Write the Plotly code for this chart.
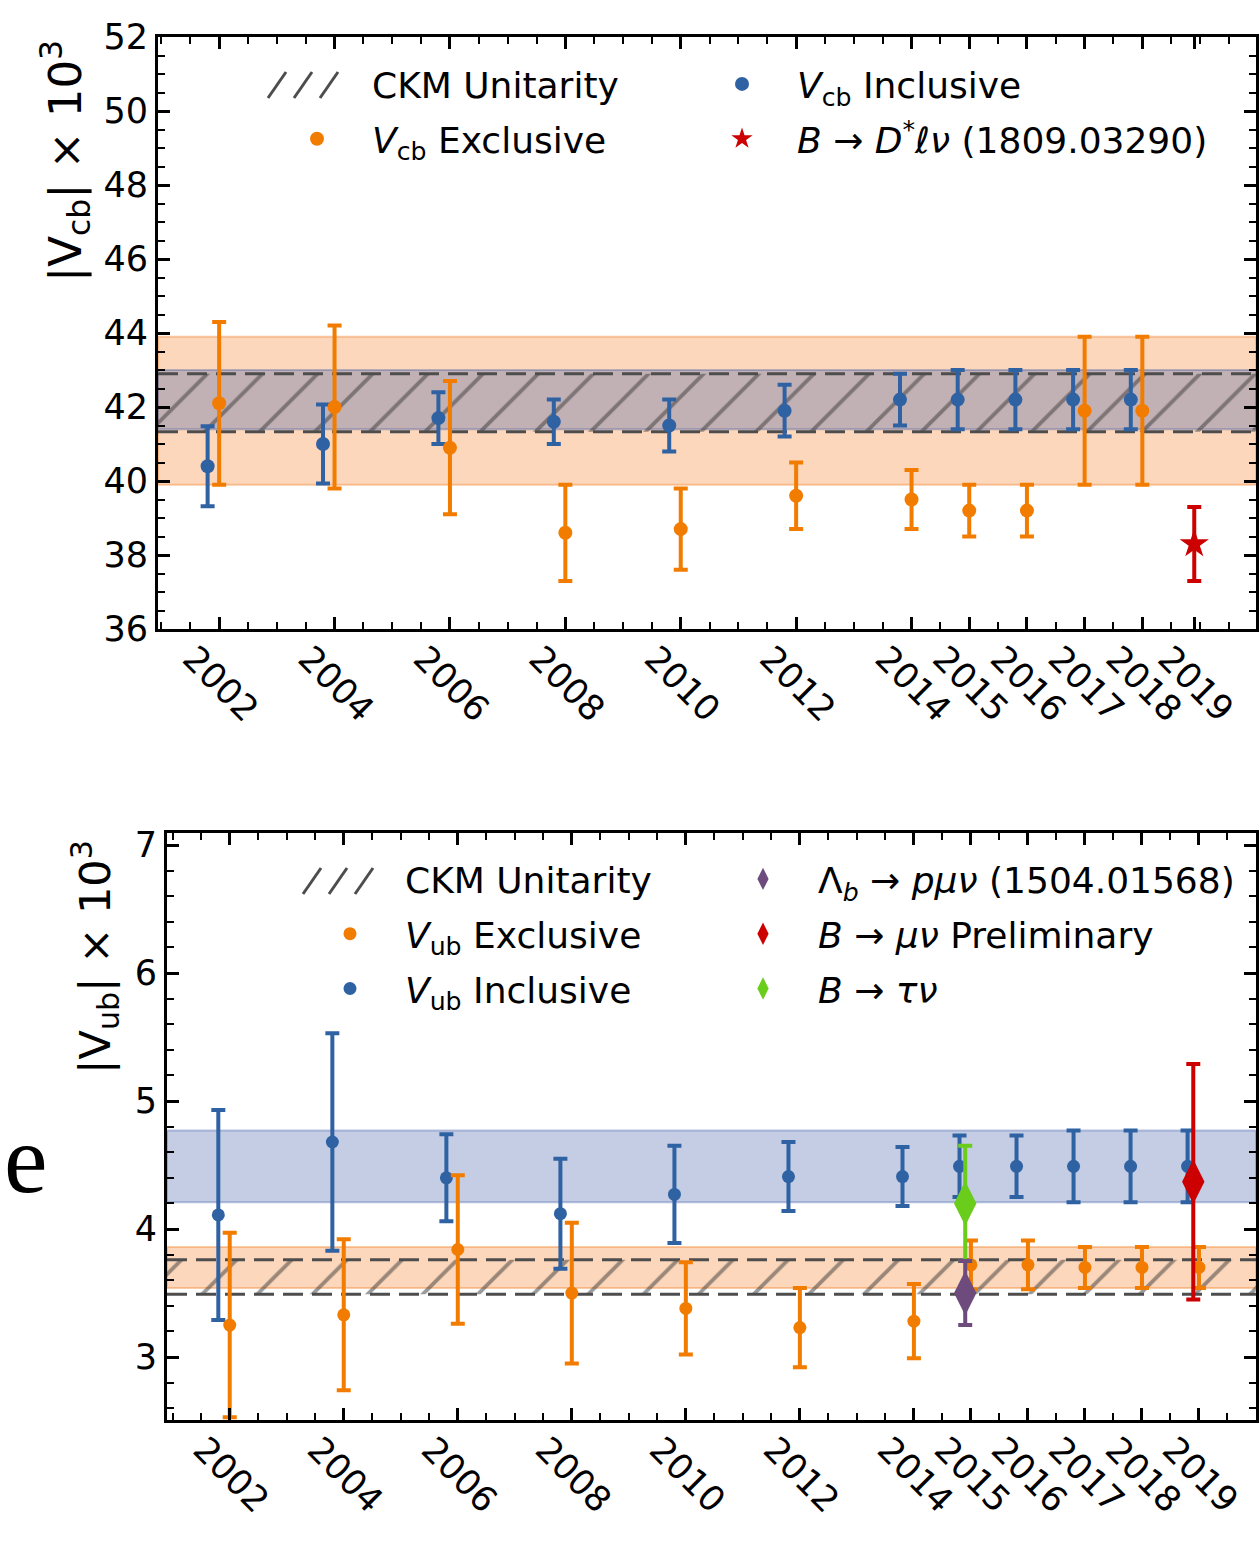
import plotly.graph_objects as go

W, H = 1260, 1568

# ---------------- data ----------------
tick_years = [2002, 2004, 2006, 2008, 2010, 2012, 2014, 2015, 2016, 2017, 2018, 2019]
tick_labels = [str(y) for y in tick_years]

# Top panel: |Vcb| x 10^3
vcb_years = [2002, 2004, 2006, 2008, 2010, 2012, 2014, 2015, 2016, 2017, 2018]
vcb_incl = [40.4, 41.0, 41.7, 41.6, 41.5, 41.9, 42.2, 42.2, 42.2, 42.2, 42.2]
vcb_incl_err = [1.08, 1.07, 0.7, 0.6, 0.7, 0.7, 0.7, 0.8, 0.8, 0.8, 0.8]
vcb_excl = [42.1, 42.0, 40.9, 38.6, 38.7, 39.6, 39.5, 39.2, 39.2, 41.9, 41.9]
vcb_excl_err = [2.2, 2.2, 1.8, 1.3, 1.1, 0.9, 0.8, 0.7, 0.7, 2.0, 2.0]
bdstar_year = [2019]
bdstar_val = [38.3]
bdstar_err = [1.0]
vcb_ckm_band = [41.33, 42.9]
vcb_excl_band = [39.9, 43.9]
vcb_incl_band = [41.4, 43.0]

# Bottom panel: |Vub| x 10^3
vub_years = [2002, 2004, 2006, 2008, 2010, 2012, 2014, 2015, 2016, 2017, 2018, 2019]
vub_incl = [4.11, 4.68, 4.40, 4.12, 4.27, 4.41, 4.41, 4.49, 4.49, 4.49, 4.49, 4.49]
vub_incl_err = [0.82, 0.85, 0.34, 0.43, 0.38, 0.27, 0.23, 0.24, 0.24, 0.28, 0.28, 0.28]
vub_excl = [3.25, 3.33, 3.84, 3.50, 3.38, 3.23, 3.28, 3.72, 3.72, 3.70, 3.70, 3.70]
vub_excl_err = [0.72, 0.59, 0.58, 0.55, 0.36, 0.31, 0.29, 0.19, 0.19, 0.16, 0.16, 0.16]
lamb_year = [2015]
lamb_val = [3.50]
lamb_err = [0.25]
bmunu_year = [2019]
bmunu_val = [4.37]
bmunu_err = [0.92]
btaunu_year = [2015]
btaunu_val = [4.20]
btaunu_err = [0.45]
vub_ckm_band = [3.49, 3.76]
vub_excl_band = [3.54, 3.86]
vub_incl_band = [4.21, 4.77]

# ---------------- style ----------------
ORANGE = "#f27c00"
BLUE = "#2f62a3"
RED = "#cc0000"
GREEN = "#6acd1c"
PURPLE = "#6d4c7d"
HATCH = "#4d4d4d"
FONT = "DejaVu Sans"

X1_RANGE = [2000.94, 2019.97]
X2_RANGE = [2000.9, 2020.0]
INCL_SHIFT = -0.2
EXTRA_SHIFT = -0.1


def px_x(p):
    return p / W


def px_y(p):
    return 1 - p / H


fig = go.Figure()


def add_panel(xs, ys, xrange, ckm, excl_band, incl_band, legend):
    fig.add_shape(type="rect", xref=xs + " domain", yref=ys, x0=0, x1=1,
                  y0=excl_band[0], y1=excl_band[1], fillcolor="rgba(245,140,60,0.35)",
                  line=dict(color="rgba(245,140,60,0.45)", width=2), layer="below")
    fig.add_shape(type="rect", xref=xs + " domain", yref=ys, x0=0, x1=1,
                  y0=incl_band[0], y1=incl_band[1], fillcolor="rgba(60,90,165,0.30)",
                  line=dict(color="rgba(60,90,165,0.35)", width=2), layer="below")
    # hatched CKM band
    fig.add_trace(go.Scatter(
        x=[xrange[0], xrange[1], xrange[1], xrange[0], xrange[0]],
        y=[ckm[0], ckm[0], ckm[1], ckm[1], ckm[0]],
        mode="lines", fill="toself", fillcolor="rgba(0,0,0,0)",
        fillpattern=dict(shape="/", fgcolor="#383838", bgcolor="rgba(0,0,0,0)", size=39, solidity=0.1),
        line=dict(width=0, color="rgba(0,0,0,0)"),
        showlegend=False, xaxis=xs, yaxis=ys, hoverinfo="skip"))
    for v in ckm:
        fig.add_trace(go.Scatter(x=[xrange[0], xrange[1]], y=[v, v], mode="lines",
                                 line=dict(color=HATCH, width=3, dash="20px,9px"),
                                 showlegend=False, xaxis=xs, yaxis=ys, hoverinfo="skip"))
    # legend entry for the hatch (glyph drawn as short strokes below)
    fig.add_trace(go.Scatter(
        x=[None], y=[None], mode="lines", line=dict(width=0, color="rgba(0,0,0,0)"),
        name="CKM Unitarity", legend=legend, legendgroup="ckm" + xs, legendrank=1,
        xaxis=xs, yaxis=ys, hoverinfo="skip"))


def err_trace(x, y, e, color, name, xs, ys, legend, rank, symbol="circle", size=14, thick=4, cap=7):
    return go.Scatter(x=x, y=y, mode="markers", name=name,
                      marker=dict(color=color, size=size, symbol=symbol, line=dict(width=0)),
                      error_y=dict(type="data", array=e, color=color, thickness=thick, width=cap),
                      xaxis=xs, yaxis=ys, legend=legend, legendrank=rank,
                      legendgroup=name)


# ---- top panel ----
bdstar_x = [y + EXTRA_SHIFT for y in bdstar_year]
add_panel("x", "y", X1_RANGE, vcb_ckm_band, vcb_excl_band, vcb_incl_band, "legend")
fig.add_trace(err_trace([y + INCL_SHIFT for y in vcb_years], vcb_incl, vcb_incl_err, BLUE,
                        "<i>V</i><sub>cb</sub> Inclusive", "x", "y", "legend2", 1))
fig.add_trace(err_trace(vcb_years, vcb_excl, vcb_excl_err, ORANGE,
                        "<i>V</i><sub>cb</sub> Exclusive", "x", "y", "legend", 2))
fig.add_trace(err_trace(bdstar_x, bdstar_val, bdstar_err, RED,
                        "<i>B</i> → <i>D</i><sup>*</sup><i>ℓν</i> (1809.03290)", "x", "y", "legend2", 2,
                        symbol="star", size=22))

# ---- bottom panel ----
add_panel("x2", "y2", X2_RANGE, vub_ckm_band, vub_excl_band, vub_incl_band, "legend3")
fig.add_trace(err_trace([y + INCL_SHIFT for y in vub_years], vub_incl, vub_incl_err, BLUE,
                        "<i>V</i><sub>ub</sub> Inclusive", "x2", "y2", "legend3", 3, size=13))
fig.add_trace(err_trace(vub_years, vub_excl, vub_excl_err, ORANGE,
                        "<i>V</i><sub>ub</sub> Exclusive", "x2", "y2", "legend3", 2, size=13))
fig.add_trace(err_trace([y + EXTRA_SHIFT for y in btaunu_year], btaunu_val, btaunu_err, GREEN,
                        "<i>B</i> → <i>τν</i>", "x2", "y2", "legend4", 3, symbol="diamond-tall", size=32))
fig.add_trace(err_trace([y + EXTRA_SHIFT for y in lamb_year], lamb_val, lamb_err, PURPLE,
                        "Λ<sub><i>b</i></sub> → <i>pμν</i> (1504.01568)", "x2", "y2", "legend4", 1,
                        symbol="diamond-tall", size=32))
fig.add_trace(err_trace([y + EXTRA_SHIFT for y in bmunu_year], bmunu_val, bmunu_err, RED,
                        "<i>B</i> → <i>μν</i> Preliminary", "x2", "y2", "legend4", 2,
                        symbol="diamond-tall", size=32))

axis_common = dict(showline=True, linecolor="black", linewidth=3, mirror="ticks",
                   ticks="inside", ticklen=12, tickwidth=2.5, tickcolor="black",
                   showgrid=False, zeroline=False, automargin=False,
                   tickfont=dict(family=FONT, size=35, color="black"))


def xaxis_cfg(domain, rng, anchor, tickpos):
    return dict(axis_common, domain=domain, range=rng, anchor=anchor,
                tickmode="array", tickvals=tickpos, ticktext=tick_labels, tickangle=45,
                ticklabelshift=-26, ticklabelstandoff=-8,
                minor=dict(tickmode="linear", tick0=2001, dtick=0.5, ticks="inside",
                           ticklen=7, tickwidth=2, tickcolor="black"))


def yaxis_cfg(domain, rng, anchor, dtick, mdtick):
    return dict(axis_common, domain=domain, range=rng, anchor=anchor, dtick=dtick,
                minor=dict(dtick=mdtick, ticks="inside", ticklen=7, tickwidth=2, tickcolor="black"))


def legend_cfg(xpx, ypx):
    return dict(orientation="v", x=px_x(xpx), y=px_y(ypx), xanchor="left", yanchor="top",
                bgcolor="rgba(0,0,0,0)", itemwidth=100, tracegroupgap=5,
                font=dict(family=FONT, size=36, color="black"))


# in the upper panel the last tick sits on the B -> D* l nu point
top_tickpos = tick_years[:-1] + bdstar_x

fig.update_layout(
    width=W, height=H,
    margin=dict(l=0, r=0, t=0, b=0, autoexpand=False),
    paper_bgcolor="white", plot_bgcolor="white",
    font=dict(family=FONT, color="black"),
    xaxis=xaxis_cfg([px_x(158), px_x(1256)], X1_RANGE, "y", top_tickpos),
    yaxis=yaxis_cfg([px_y(629), px_y(37)], [36, 52], "x", 2, 0.5),
    xaxis2=xaxis_cfg([px_x(167), px_x(1256)], X2_RANGE, "y2", tick_years),
    yaxis2=yaxis_cfg([px_y(1420), px_y(833)], [2.508, 7.094], "x2", 1, 0.2),
    legend=legend_cfg(262, 54),
    legend2=legend_cfg(687, 54),
    legend3=legend_cfg(295, 849),
    legend4=legend_cfg(708, 849),
    showlegend=True,
)

# hatch glyphs for the "CKM Unitarity" legend entries
for left, top in [(268, 72), (303, 868)]:
    for i in range(3):
        x0 = left + i * 26
        fig.add_shape(type="line", xref="paper", yref="paper",
                      x0=px_x(x0), y0=px_y(top + 26), x1=px_x(x0 + 18), y1=px_y(top),
                      line=dict(color=HATCH, width=3))

fig.add_annotation(text="|V<sub>cb</sub>| × 10<sup>3</sup>", textangle=-90,
                   xref="paper", yref="paper", x=px_x(65), y=px_y(38),
                   xanchor="center", yanchor="top", showarrow=False,
                   font=dict(family=FONT, size=45, color="black"))
fig.add_annotation(text="|V<sub>ub</sub>| × 10<sup>3</sup>", textangle=-90,
                   xref="paper", yref="paper", x=px_x(95), y=px_y(838),
                   xanchor="center", yanchor="top", showarrow=False,
                   font=dict(family=FONT, size=43, color="black"))
fig.add_annotation(text="e", xref="paper", yref="paper", x=px_x(26), y=px_y(1159),
                   xanchor="center", yanchor="middle",
                   showarrow=False, font=dict(family="Liberation Serif", size=98, color="black"))

fig.write_html("out.html", config={"displayModeBar": False},
               post_script="document.body.style.margin='0px';document.body.style.overflow='hidden';")
